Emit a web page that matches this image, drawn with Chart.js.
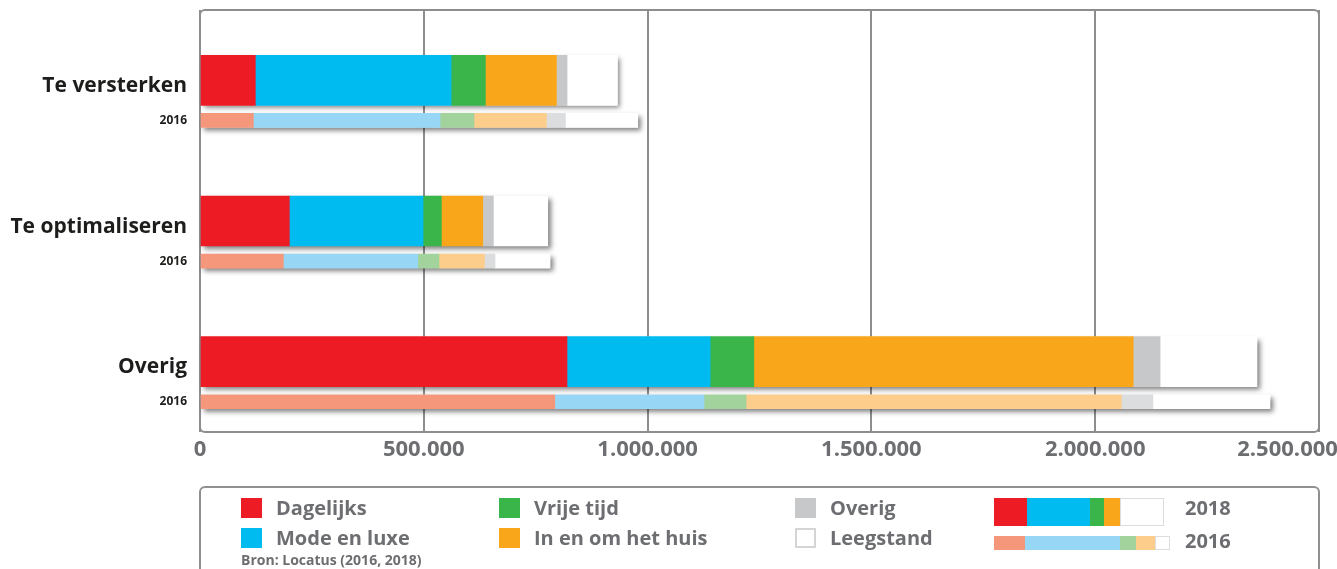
<!DOCTYPE html>
<html lang="nl">
<head>
<meta charset="utf-8">
<title>Winkelvloeroppervlak per branchegroep</title>
<script src="https://cdn.jsdelivr.net/npm/chart.js@4.4.1/dist/chart.umd.min.js"></script>
<style>
  body { margin: 0; background: #fff; font-family: 'Open Sans', sans-serif; }
  #wrap { position: relative; width: 1337px; height: 569px; overflow: hidden; }
  #chart { position: absolute; left: 0; top: 0; }
  #legendBox { position: absolute; left: 199px; top: 486px; width: 1117px; height: 120px;
               border: 2px solid #8f9092; border-radius: 6px; }
  .sw { position: absolute; width: 21px; height: 20px; box-sizing: border-box; }
  .txt { position: absolute; font-size: 20px; line-height: 20px; font-weight: bold; color: #6d6e71; white-space: nowrap; }
  .mini { position: absolute; display: flex; }
  .mini span { display: block; height: 100%; box-sizing: border-box; }
  #bron { position: absolute; left: 241px; top: 553px; font-size: 14px; line-height: 14px; font-weight: bold; color: #6d6e71; }
</style>
</head>
<body>
<div id="wrap">
  <canvas id="chart" width="1337" height="569"></canvas>
  <div id="legendBox"></div>
  <div id="legend"></div>
  <div id="bron">Bron: Locatus (2016, 2018)</div>
</div>
<script>
// categories
const groups = ['Te versterken', 'Te optimaliseren', 'Overig'];
const compareYear = '2016';
const seriesNames = ['Dagelijks', 'Mode en luxe', 'Vrije tijd', 'In en om het huis', 'Overig', 'Leegstand'];
const colors2018 = ['#ed1c24', '#00bbf0', '#39b54a', '#faa61a', '#c7c8ca', '#ffffff'];
const colors2016 = ['#f4977b', '#97d7f5', '#a3d39c', '#fdce8b', '#dcddde', '#ffffff'];

// 2018 values (m2 wvo), per group
const dagelijks2018 = [123600, 199600, 819900];
const mode2018      = [437400, 298700, 319800];
const vrijeTijd2018 = [76600, 41000, 97600];
const huis2018      = [158700, 92400, 847600];
const overig2018    = [23800, 23800, 60100];
const leegstand2018 = [112500, 121400, 216400];

// 2016 values
const dagelijks2016 = [119200, 186200, 792600];
const mode2016      = [417100, 300200, 333400];
const vrijeTijd2016 = [76000, 47700, 94100];
const huis2016      = [161600, 101300, 838200];
const overig2016    = [42500, 23800, 70600];
const leegstand2016 = [161600, 122900, 261700];

const xTicks = [0, 500000, 1000000, 1500000, 2000000, 2500000];

const values2018 = [dagelijks2018, mode2018, vrijeTijd2018, huis2018, overig2018, leegstand2018];
const values2016 = [dagelijks2016, mode2016, vrijeTijd2016, huis2016, overig2016, leegstand2016];

const FONT = "'Open Sans', sans-serif";
const yearOffset = 0.285; // 2016 bar sits just below the 2018 bar
const labelNudge = 0.04;  // group names sit a little under the bar middle

const fmt = v => String(v).replace(/\B(?=(\d{3})+(?!\d))/g, '.');

const rowPos = [];
const rowLabels = [];
groups.forEach((g, i) => {
  rowPos.push(i + labelNudge, i + yearOffset);
  rowLabels.push(g, compareYear);
});

const datasets = [];
seriesNames.forEach((name, k) => {
  datasets.push({
    label: name + ' 2018',
    data: values2018[k].map((v, i) => ({ x: v, y: i })),
    backgroundColor: colors2018[k],
    barThickness: 50
  });
});
seriesNames.forEach((name, k) => {
  datasets.push({
    label: name + ' 2016',
    data: values2016[k].map((v, i) => ({ x: v, y: i + yearOffset })),
    backgroundColor: colors2016[k],
    barThickness: 14
  });
});

// frame round the plot area
const plotFrame = {
  id: 'plotFrame',
  beforeDatasetsDraw(chart) {
    const { left, top, width, height } = chart.chartArea;
    const ctx = chart.ctx;
    ctx.save();
    ctx.strokeStyle = '#8c8d8f';
    ctx.lineWidth = 2;
    ctx.beginPath();
    ctx.roundRect(left, top, width, height, 5);
    ctx.stroke();
    ctx.restore();
  }
};

// one drop shadow per stacked bar
const rowShadow = {
  id: 'rowShadow',
  beforeDatasetsDraw(chart) {
    const rows = new Map();
    chart.getSortedVisibleDatasetMetas().forEach(meta => {
      meta.data.forEach(bar => {
        const p = bar.getProps(['x', 'y', 'base', 'height'], true);
        const key = Math.round(p.y);
        const r = rows.get(key) || { l: Infinity, r: -Infinity, y: p.y, h: p.height };
        r.l = Math.min(r.l, p.base, p.x);
        r.r = Math.max(r.r, p.base, p.x);
        rows.set(key, r);
      });
    });
    const ctx = chart.ctx;
    ctx.save();
    ctx.shadowColor = 'rgba(0,0,0,0.5)';
    ctx.shadowBlur = 5;
    ctx.shadowOffsetX = 3;
    ctx.shadowOffsetY = 3;
    ctx.fillStyle = '#fff';
    rows.forEach(r => ctx.fillRect(r.l, r.y - r.h / 2, r.r - r.l, r.h));
    ctx.restore();
  }
};

const ctx = document.getElementById('chart').getContext('2d');
const chart = new Chart(ctx, {
  type: 'bar',
  data: { datasets },
  plugins: [plotFrame, rowShadow],
  options: {
    indexAxis: 'y',
    responsive: false,
    animation: false,
    layout: { padding: { top: 10, right: 18, left: 0, bottom: 0 } },
    plugins: { legend: { display: false }, tooltip: { enabled: false } },
    datasets: { bar: { borderWidth: 0 } },
    scales: {
      x: {
        type: 'linear',
        min: 0,
        max: 2500000,
        stacked: true,
        afterBuildTicks: s => { s.ticks = xTicks.map(v => ({ value: v })); },
        ticks: {
          color: '#6d6e71',
          padding: 5,
          maxRotation: 0,
          font: { family: FONT, size: 22, weight: 'bold' },
          callback: (v, i, t) => i === t.length - 1 ? fmt(v) + ' '.repeat(11) : fmt(v)
        },
        grid: { color: '#8c8d8f', lineWidth: 2, drawTicks: false },
        border: { display: false },
        afterFit: s => { s.height = 137; s.paddingLeft = 0; s.paddingRight = 0; }
      },
      y: {
        type: 'linear',
        min: -0.5,
        max: 2.5,
        offset: false,
        reverse: true,
        stacked: true,
        afterBuildTicks: s => { s.ticks = rowPos.map(v => ({ value: v })); },
        ticks: {
          autoSkip: false,
          padding: 5,
          color: '#1d1d1b',
          font: c => c.index % 2 === 0
            ? { family: FONT, size: 21, weight: 'bold' }
            : { family: FONT, size: 12, weight: 'bold' },
          callback: (v, i) => rowLabels[i]
        },
        grid: { display: false },
        border: { display: false },
        afterFit: s => { s.width = 200; s.paddingTop = 0; s.paddingBottom = 0; }
      }
    }
  }
});

// legend below the chart
const legend = document.getElementById('legend');
const colX = [241, 499, 795];
const rowY = [498, 528];
seriesNames.forEach((name, k) => {
  const x = colX[Math.floor(k / 2)];
  const y = rowY[k % 2];
  const sw = document.createElement('div');
  sw.className = 'sw';
  sw.style.left = x + 'px';
  sw.style.top = y + 'px';
  sw.style.background = colors2018[k];
  if (colors2018[k] === '#ffffff') sw.style.border = '2px solid #d4d5d6';
  legend.appendChild(sw);
  const t = document.createElement('div');
  t.className = 'txt';
  t.style.left = (x + 35) + 'px';
  t.style.top = (y) + 'px';
  t.textContent = name;
  legend.appendChild(t);
});

// small sample bars for the two years
const samples = [
  { year: '2018', colors: colors2018, widths: [33, 63, 14, 16, 44], top: 498, h: 28 },
  { year: '2016', colors: colors2016, widths: [31, 95, 16, 19, 15], top: 536, h: 14 }
];
samples.forEach(s => {
  const bar = document.createElement('div');
  bar.className = 'mini';
  bar.style.left = '994px';
  bar.style.top = s.top + 'px';
  bar.style.height = s.h + 'px';
  [0, 1, 2, 3, 5].forEach((k, j) => {
    const seg = document.createElement('span');
    seg.style.width = s.widths[j] + 'px';
    seg.style.background = s.colors[k];
    if (k === 5) seg.style.border = '1px solid #dcdddf';
    bar.appendChild(seg);
  });
  legend.appendChild(bar);
  const t = document.createElement('div');
  t.className = 'txt';
  t.style.left = '1185px';
  t.style.top = (s.year === '2018' ? 498 : 531) + 'px';
  t.textContent = s.year;
  legend.appendChild(t);
});
</script>
</body>
</html>
